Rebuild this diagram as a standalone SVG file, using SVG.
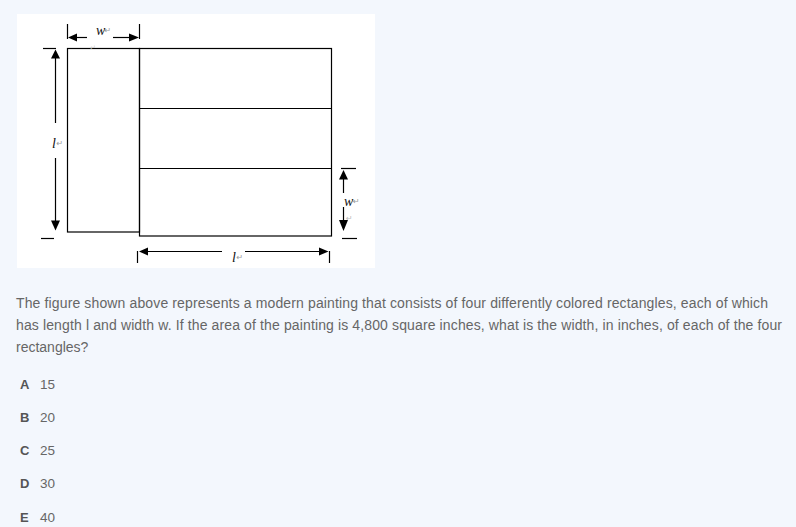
<svg xmlns="http://www.w3.org/2000/svg" width="796" height="527" viewBox="0 0 796 527">
<style>
.ln{stroke:#000;stroke-width:1.2;fill:none}
.ah{fill:#000}
.lab{font-family:"Liberation Serif",serif;font-style:italic;font-size:14px;fill:#111}
.ret{font-family:"DejaVu Sans",sans-serif;font-size:8px;fill:#999}
.q{font-family:"Liberation Sans",Arial,sans-serif;font-size:14px;fill:#666}
.o{font-family:"Liberation Sans",Arial,sans-serif;font-size:13.5px;fill:#666}
.opt{font-family:"Liberation Sans",Arial,sans-serif;font-size:13px;font-weight:bold;fill:#555}
</style>
<rect x="0" y="0" width="796" height="527" fill="#f3f7fd"/>
<rect x="17" y="14" width="358" height="254" fill="#ffffff"/>

<g id="painting">
  <rect x="67.5" y="48.5" width="72" height="183.5" class="ln"/>
  <rect x="139.5" y="48.5" width="192" height="187.5" class="ln"/>
  <line x1="139.5" y1="108.5" x2="331.5" y2="108.5" class="ln"/>
  <line x1="139.5" y1="168.5" x2="331.5" y2="168.5" class="ln"/>
</g>

<g id="connectors">
  <!-- top w dimension -->
  <line x1="67.5" y1="24" x2="67.5" y2="39" class="ln"/>
  <line x1="139.5" y1="24" x2="139.5" y2="39" class="ln"/>
  <line x1="76" y1="37.5" x2="87" y2="37.5" class="ln"/>
  <line x1="113" y1="37.5" x2="130" y2="37.5" class="ln"/>
  <polygon points="68,37.5 77,33.5 77,41.5" class="ah"/>
  <polygon points="139,37.5 129,33.5 129,41.5" class="ah"/>
  <!-- left l dimension -->
  <line x1="43" y1="48.5" x2="56" y2="48.5" class="ln"/>
  <line x1="41" y1="238.5" x2="54" y2="238.5" class="ln"/>
  <line x1="55.5" y1="58" x2="55.5" y2="123" class="ln"/>
  <line x1="55.5" y1="158" x2="55.5" y2="221" class="ln"/>
  <polygon points="55.5,49.5 51,58.5 60,58.5" class="ah"/>
  <polygon points="55.5,230.5 51,220.5 60,220.5" class="ah"/>
  <!-- right w dimension -->
  <line x1="341" y1="168.5" x2="356" y2="168.5" class="ln"/>
  <line x1="342" y1="238.5" x2="357" y2="238.5" class="ln"/>
  <line x1="343.5" y1="179" x2="343.5" y2="193" class="ln"/>
  <line x1="343.5" y1="207" x2="343.5" y2="221" class="ln"/>
  <polygon points="343.5,170 339,179.5 348,179.5" class="ah"/>
  <polygon points="343.5,231 339,220 348,220" class="ah"/>
  <!-- bottom l dimension -->
  <line x1="137.5" y1="251" x2="137.5" y2="263" class="ln"/>
  <line x1="329.5" y1="251" x2="329.5" y2="263" class="ln"/>
  <line x1="148" y1="251.5" x2="222" y2="251.5" class="ln"/>
  <line x1="245" y1="251.5" x2="319" y2="251.5" class="ln"/>
  <polygon points="139,251.5 148,247.5 148,255.5" class="ah"/>
  <polygon points="328.5,251.5 319,247.5 319,255.5" class="ah"/>
</g>

<g id="labels">
  <text x="96" y="35" class="lab">w</text><text x="104.5" y="33" class="ret">↵</text>
  <text x="90" y="50" class="ret" style="fill:#ccc;font-size:7px">↵</text>
  <text x="52" y="148" class="lab">l</text><text x="56.5" y="146" class="ret">↵</text>
  <text x="344" y="206" class="lab">w</text><text x="353" y="204" class="ret">↵</text>
  <text x="346" y="221" class="ret" style="fill:#bbb">↵</text>
  <text x="232" y="262" class="lab">l</text><text x="236.5" y="260" class="ret">↵</text>
</g>

<g id="question">
  <text x="16" y="308" class="q" textLength="752" lengthAdjust="spacing">The figure shown above represents a modern painting that consists of four differently colored rectangles, each of which</text>
  <text x="16" y="330" class="q" textLength="766" lengthAdjust="spacing">has length l and width w. If the area of the painting is 4,800 square inches, what is the width, in inches, of each of the four</text>
  <text x="16" y="352" class="q">rectangles?</text>
</g>

<g id="options">
  <text x="20" y="389" class="opt">A</text><text x="40" y="389" class="o">15</text>
  <text x="20" y="422" class="opt">B</text><text x="40" y="422" class="o">20</text>
  <text x="20" y="455" class="opt">C</text><text x="40" y="455" class="o">25</text>
  <text x="20" y="488" class="opt">D</text><text x="40" y="488" class="o">30</text>
  <text x="20" y="522" class="opt">E</text><text x="40" y="522" class="o">40</text>
</g>
</svg>
